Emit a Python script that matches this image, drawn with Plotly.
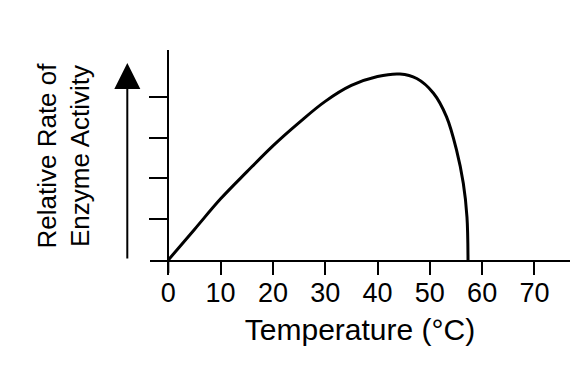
import plotly.graph_objects as go

# Temperature (°C) and relative enzyme activity
temperature = [0, 5, 10, 15, 20, 25, 30, 35, 40, 44.3, 47.5, 50.7, 53.2, 55.1, 56.4, 57.1, 57.3]
activity = [0, 0.75, 1.5, 2.16, 2.8, 3.37, 3.89, 4.28, 4.5, 4.56, 4.45, 4.09, 3.51, 2.70, 1.88, 1.06, 0]

x_ticks = [0, 10, 20, 30, 40, 50, 60, 70]
y_ticks = [1, 2, 3, 4]
x_title = "Temperature (°C)"
y_title = "Relative Rate of<br>Enzyme Activity"

FONT = "Liberation Sans, Arial, Helvetica, sans-serif"

fig = go.Figure()
fig.add_trace(go.Scatter(
    x=temperature, y=activity, mode="lines",
    line=dict(color="black", width=3, shape="spline", smoothing=1.0),
    hoverinfo="skip", showlegend=False,
))

fig.update_layout(
    width=579, height=379,
    margin=dict(l=142, r=17, t=42, b=127),
    paper_bgcolor="white", plot_bgcolor="white",
    font=dict(family=FONT, color="black"),
    showlegend=False,
    xaxis=dict(
        range=[-3.5, 76.8], tickmode="array", tickvals=x_ticks,
        ticktext=[str(v) for v in x_ticks],
        ticks="outside", ticklen=13, tickwidth=2, tickcolor="black",
        ticklabelstandoff=-5,
        showline=True, linewidth=2, linecolor="black",
        showgrid=False, zeroline=False,
        tickfont=dict(size=27, family=FONT, color="black"),
        title=dict(text=x_title, font=dict(size=30, family=FONT, color="black"), standoff=12),
    ),
    yaxis=dict(
        range=[0, 5.15], tickmode="array", tickvals=y_ticks,
        showticklabels=False,
        ticks="outside", ticklen=18, tickwidth=2, tickcolor="black",
        showline=True, linewidth=2, linecolor="black",
        showgrid=False, zeroline=False,
        anchor="free", position=(168.3 - 150) / 420,
    ),
)

# extend the y-axis line below the x-axis
fig.add_shape(type="line", xref="x", yref="paper", x0=0, x1=0, y0=0, y1=-13 / 210,
              line=dict(color="black", width=2))

# upward arrow next to y axis
fig.add_annotation(
    xref="paper", yref="paper", x=(127.3 - 150) / 420, y=(260 - 63) / 210,
    ax=0, ay=197, text="", showarrow=True,
    arrowhead=2, arrowsize=2.6, arrowwidth=2, arrowcolor="black",
)

# y label
fig.add_annotation(
    xref="paper", yref="paper", x=(63.5 - 150) / 420, y=(260 - 156) / 210,
    text=y_title, showarrow=False, textangle=-90,
    font=dict(size=26, family=FONT, color="black"),
    xanchor="center", yanchor="middle",
)

fig.write_html("out.html", config={"displayModeBar": False})
